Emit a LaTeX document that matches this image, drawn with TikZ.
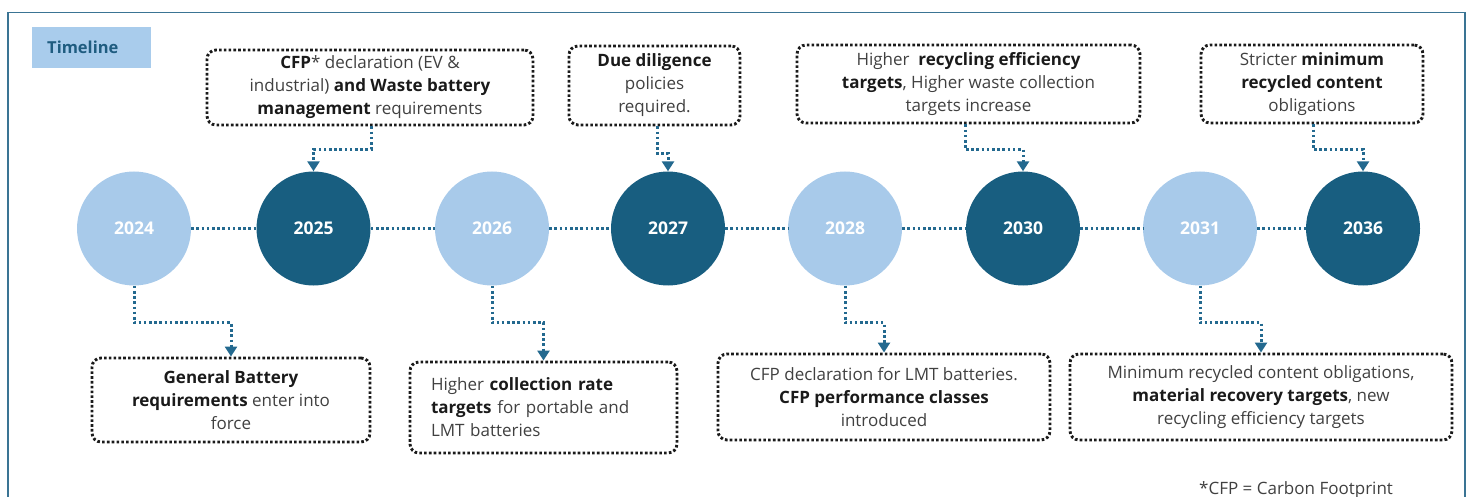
\documentclass[tikz,border=0pt]{standalone}
\usepackage{fontspec}
\setmainfont{Open Sans}
\usetikzlibrary{arrows.meta}
\definecolor{dkc}{HTML}{185E80}
\definecolor{ltc}{HTML}{A8CAEA}
\definecolor{conc}{HTML}{23698F}
\definecolor{framec}{HTML}{3A7494}
\definecolor{tlfill}{HTML}{A9CCEC}
\definecolor{tltext}{HTML}{1F5C80}
\definecolor{txt}{HTML}{404040}
\definecolor{bld}{HTML}{1A1A1A}
\definecolor{boxc}{HTML}{1A1A1A}
\newcommand\mybf[1]{\textcolor{bld}{\textbf{#1}}}
\newcommand\bodyfont{\fontsize{17}{23}\selectfont}
\tikzset{
  yr/.style={circle, minimum size=114pt, inner sep=0pt, text=white,
    font=\fontsize{17.5}{20}\selectfont\bfseries},
  lightyr/.style={yr, fill=ltc},
  darkyr/.style={yr, fill=dkc},
  infobox/.style={draw=boxc, line width=2.9pt, dash pattern=on 2.6pt off 2.2pt,
    rounded corners=9pt, align=center, font=\bodyfont, text=txt, inner sep=0pt},
  conn/.style={draw=conc, line width=3pt, dash pattern=on 2.6pt off 2.6pt,
    -{Triangle[width=12pt,length=10pt]}},
  link/.style={draw=conc, line width=3pt, dash pattern=on 2.6pt off 2.6pt}
}
\begin{document}
\begin{tikzpicture}[x=1pt,y=-1pt]
\useasboundingbox (0,0) rectangle (1470,497);
% frame
\draw[framec, line width=1.5pt] (8,497) -- (8,12.5) -- (1465,12.5) -- (1465,497);
% title
\node[fill=tlfill, anchor=north west, minimum height=41pt, text width=89pt,
  inner xsep=15pt, inner ysep=0pt, align=left, text=tltext,
  font=\fontsize{16.5}{20}\selectfont\bfseries] (tl) at (32,27) {Timeline};
% years
\node[lightyr] (c2024) at (134,228.5) {2024};
\node[darkyr]  (c2025) at (313.5,228.5) {2025};
\node[lightyr] (c2026) at (492,228.5) {2026};
\node[darkyr]  (c2027) at (668,228.5) {2027};
\node[lightyr] (c2028) at (845,228.5) {2028};
\node[darkyr]  (c2030) at (1023,228.5) {2030};
\node[lightyr] (c2031) at (1200,228.5) {2031};
\node[darkyr]  (c2036) at (1363,228.5) {2036};
\foreach \a/\b in {c2024/c2025,c2025/c2026,c2026/c2027,c2027/c2028,c2028/c2030,c2030/c2031,c2031/c2036}
  \draw[link] (\a.east) -- (\b.west);
% top boxes
\node[infobox, minimum width=326pt, minimum height=75pt] (b2025) at (370,87.5)
  {\mybf{CFP}* declaration (EV \&\\ industrial) \mybf{and Waste battery}\\ \mybf{management} requirements};
\node[infobox, minimum width=171pt, minimum height=79pt] (b2027) at (654.5,85.5)
  {\mybf{Due diligence}\\ policies\\ required.};
\node[infobox, minimum width=343pt, minimum height=78pt] (b2030) at (968.5,84)
  {Higher \ \mybf{recycling efficiency}\\ \mybf{targets}, Higher waste collection\\ targets increase};
\node[infobox, minimum width=222pt, minimum height=78pt] (b2036) at (1312,84)
  {Stricter \mybf{minimum}\\ \mybf{recycled content}\\ obligations};
% bottom boxes
\node[infobox, minimum width=278pt, minimum height=84pt] (b2024) at (231,400)
  {\mybf{General Battery}\\ \mybf{requirements} enter into\\ force};
\node[infobox, minimum height=91pt, text width=225pt, inner xsep=21pt, align=left] (b2026) at (543.5,407.5)
  {Higher \mybf{collection rate}\\ \mybf{targets} for portable and\\ LMT batteries};
\node[infobox, minimum width=332pt, minimum height=86pt] (b2028) at (884,397)
  {CFP declaration for LMT batteries.\\ \mybf{CFP performance classes}\\ introduced};
\node[infobox, minimum width=382pt, minimum height=86pt] (b2031) at (1261,397)
  {Minimum recycled content obligations,\\ \mybf{material recovery targets}, new\\ recycling efficiency targets};
% connectors top
\draw[conn] ([xshift=1pt]b2025.south) -- ++(0,23) -| (c2025.north);
\draw[conn] ([xshift=2.5pt]b2027.south) -- ++(0,27) -| (c2027.north);
\draw[conn] ([xshift=-3.5pt]b2030.south) -- ++(0,25) -| (c2030.north);
\draw[conn] ([xshift=1pt]b2036.south) -- ++(0,25) -| (c2036.north);
% connectors bottom
\draw[conn] (c2024.south) -- ++(0,37) -| (b2024.north);
\draw[conn] (c2026.south) -- ++(0,37) -| (b2026.north);
\draw[conn] (c2028.south) -- ++(0,37) -| (b2028.north);
\draw[conn] (c2031.south) -- ++(0,37) -| (b2031.north);
% footnote
\node[anchor=base west, inner sep=0pt, font=\bodyfont, text=txt] (fn) at (1199,494) {*CFP = Carbon Footprint};
\end{tikzpicture}
\end{document}
